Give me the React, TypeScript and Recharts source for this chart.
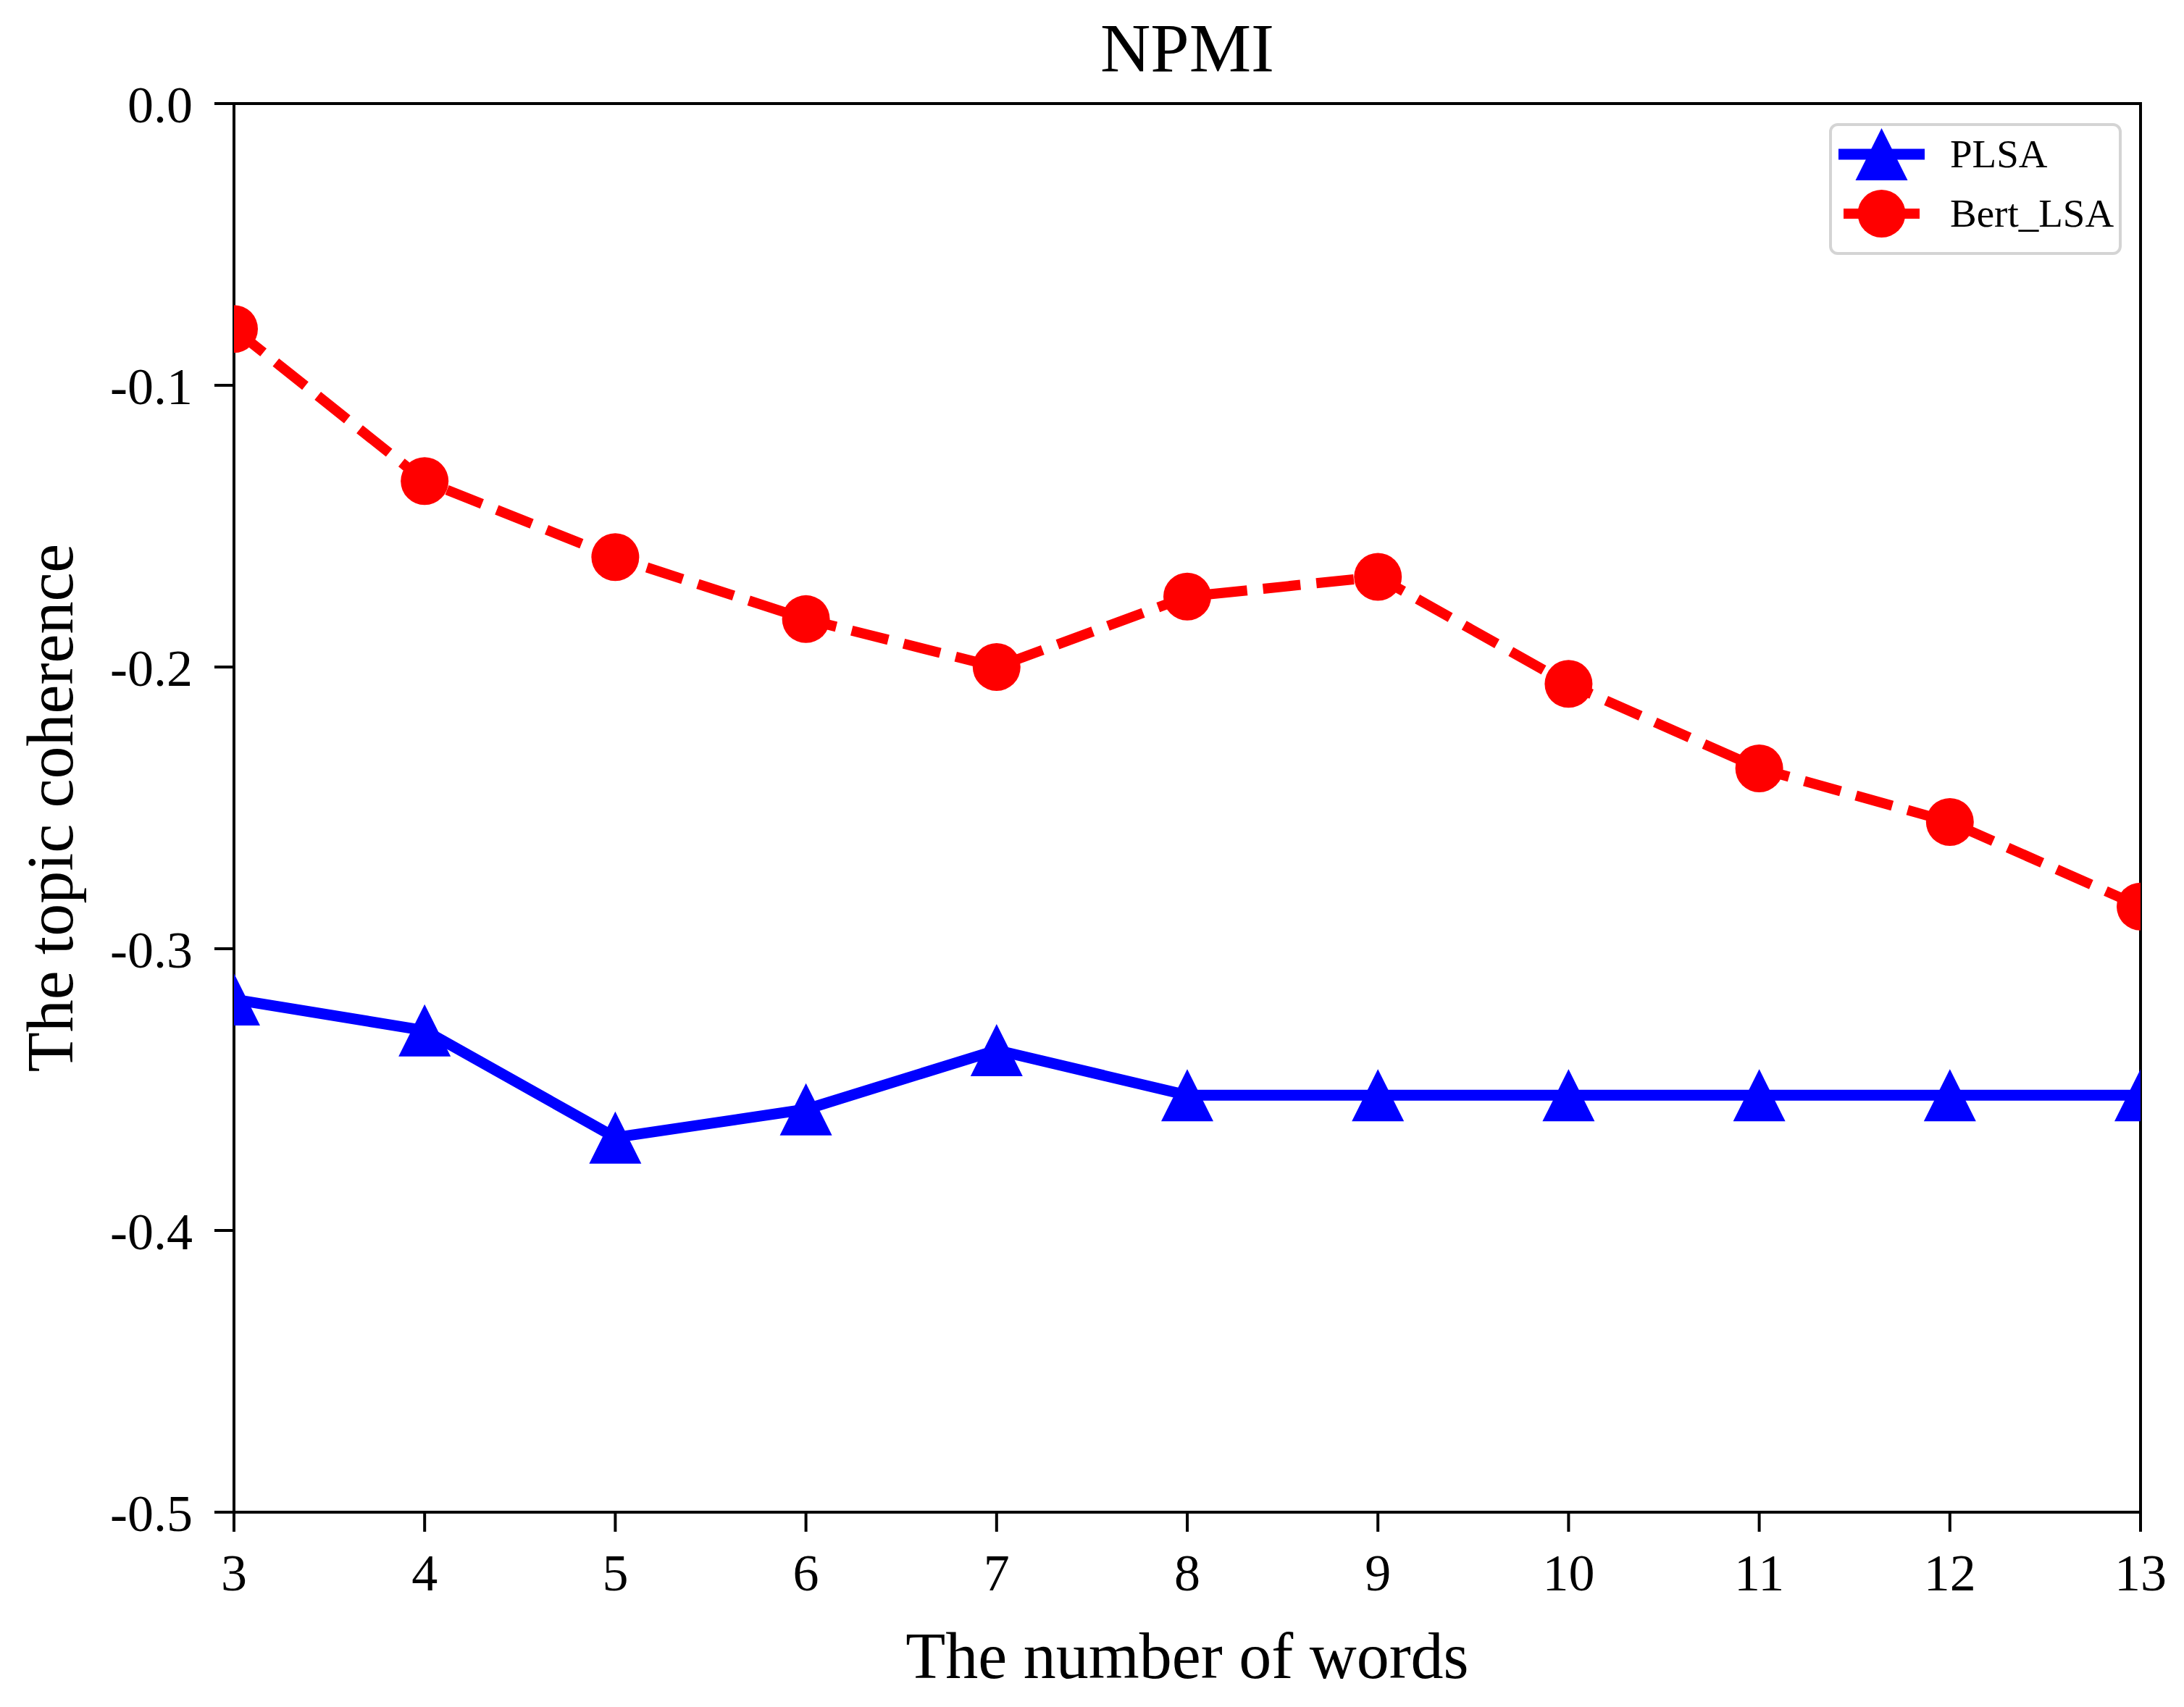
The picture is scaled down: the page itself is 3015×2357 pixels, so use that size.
import React from "react";
import {
  LineChart,
  Line,
  XAxis,
  YAxis,
  ReferenceArea,
  Legend,
} from "recharts";

const FONT = "'Liberation Serif', 'DejaVu Serif', serif";

// ---- data ----
const wordCounts = [3, 4, 5, 6, 7, 8, 9, 10, 11, 12, 13];
const plsaValues = [-0.318, -0.329, -0.367, -0.357, -0.336, -0.352, -0.352, -0.352, -0.352, -0.352, -0.352];
const bertLsaValues = [-0.08, -0.134, -0.161, -0.183, -0.2, -0.175, -0.168, -0.206, -0.236, -0.255, -0.285];
const xTicks = [3, 4, 5, 6, 7, 8, 9, 10, 11, 12, 13];
const yTicks = [-0.5, -0.4, -0.3, -0.2, -0.1, 0.0];
const seriesNames = ["PLSA", "Bert_LSA"];
const titleText = "NPMI";
const xLabelText = "The number of words";
const yLabelText = "The topic coherence";

const data = wordCounts.map((w, i) => ({
  x: w,
  plsa: plsaValues[i],
  bert: bertLsaValues[i],
}));

const BLUE = "#0000ff";
const RED = "#ff0000";

const TRI = 36;
const CIRC_R = 33;

const TriangleDot = (props: any) => {
  const { cx, cy, key } = props;
  if (cx == null || cy == null) return null;
  const pts = `${cx},${cy - TRI} ${cx - TRI},${cy + TRI} ${cx + TRI},${cy + TRI}`;
  return <polygon key={key} points={pts} fill={BLUE} stroke="none" />;
};

const CircleDot = (props: any) => {
  const { cx, cy, key } = props;
  if (cx == null || cy == null) return null;
  return <circle key={key} cx={cx} cy={cy} r={CIRC_R} fill={RED} stroke="none" />;
};

const LegendBox = () => {
  const entries = [
    { name: seriesNames[0], color: BLUE, marker: "tri", dash: undefined as string | undefined, y: 43, sw: 15 },
    { name: seriesNames[1], color: RED, marker: "circ", dash: "52 22", y: 125, sw: 14 },
  ];
  return (
    <div
      style={{
        boxSizing: "border-box",
        width: 404,
        height: 182,
        border: "4px solid #d4d4d4",
        borderRadius: 12,
        background: "#ffffff",
        position: "relative",
        fontFamily: FONT,
      }}
    >
      {entries.map((e) => (
        <div key={e.name}>
          <svg
            width={130}
            height={80}
            style={{ position: "absolute", left: 13 - 4, top: e.y - 40 - 4, overflow: "visible" }}
          >
            {e.marker === "tri" ? (
              <>
                <line x1={0} y1={40} x2={119} y2={40} stroke={e.color} strokeWidth={e.sw} />
                <polygon
                  points={`${59.5},${40 - TRI} ${59.5 - TRI},${40 + TRI} ${59.5 + TRI},${40 + TRI}`}
                  fill={e.color}
                />
              </>
            ) : (
              <>
                <line x1={7} y1={40} x2={112} y2={40} stroke={e.color} strokeWidth={e.sw} />
                <circle cx={59.5} cy={40} r={CIRC_R} fill={e.color} />
              </>
            )}
          </svg>
          <div
            style={{
              position: "absolute",
              left: 167 - 4,
              top: e.y - 4 - 40,
              height: 80,
              lineHeight: "80px",
              fontSize: 55,
              color: "#000",
              whiteSpace: "nowrap",
            }}
          >
            {e.name}
          </div>
        </div>
      ))}
    </div>
  );
};

const YLabel = (props: any) => {
  const vb = props.viewBox || {};
  const x = (vb.x ?? 0) + 100;
  const y = (vb.y ?? 0) + (vb.height ?? 0) / 2;
  return (
    <text
      x={x}
      y={y}
      transform={`rotate(-90 ${x} ${y})`}
      textAnchor="middle"
      fontSize={90}
      fontFamily={FONT}
      fill="#000"
    >
      {yLabelText}
    </text>
  );
};

const XLabel = (props: any) => {
  const vb = props.viewBox || {};
  const x = (vb.x ?? 0) + (vb.width ?? 0) / 2;
  const y = (vb.y ?? 0) + 229;
  return (
    <text x={x} y={y} textAnchor="middle" fontSize={90} fontFamily={FONT} fill="#000">
      {xLabelText}
    </text>
  );
};

export default function App() {
  return (
    <div style={{ position: "absolute", left: 0, top: 0, width: 3015, height: 2357, background: "#fff" }}>
      <LineChart
        width={3015}
        height={2357}
        data={data}
        margin={{ top: 143, right: 60, bottom: 0, left: 0 }}
      >
        <XAxis
          dataKey="x"
          type="number"
          domain={[3, 13]}
          ticks={xTicks}
          allowDataOverflow
          height={269}
          tickSize={27}
          tickMargin={30}
          axisLine={{ stroke: "#000", strokeWidth: 4 }}
          tickLine={{ stroke: "#000", strokeWidth: 4 }}
          tick={{ fontSize: 72, fill: "#000", fontFamily: FONT }}
          interval={0}
          label={<XLabel />}
        />
        <YAxis
          type="number"
          domain={[-0.5, 0]}
          ticks={yTicks}
          allowDataOverflow
          width={323}
          tickSize={27}
          tickMargin={30}
          axisLine={{ stroke: "#000", strokeWidth: 4 }}
          tickLine={{ stroke: "#000", strokeWidth: 4 }}
          tick={{ fontSize: 72, fill: "#000", fontFamily: FONT }}
          tickFormatter={(v: number) => v.toFixed(1)}
          interval={0}
          label={<YLabel />}
        />
        <ReferenceArea
          x1={3}
          x2={13}
          y1={-0.5}
          y2={0}
          ifOverflow="visible"
          fill="none"
          fillOpacity={0}
          stroke="#000"
          strokeWidth={4}
          label={{
            value: titleText,
            position: "top",
            offset: 44,
            fontSize: 96,
            fill: "#000",
            fontFamily: FONT,
          }}
        />
        <Line
          type="linear"
          dataKey="plsa"
          name={seriesNames[0]}
          stroke={BLUE}
          strokeWidth={15}
          strokeLinejoin="round"
          dot={TriangleDot}
          activeDot={false}
          isAnimationActive={false}
        />
        <Line
          type="linear"
          dataKey="bert"
          name={seriesNames[1]}
          stroke={RED}
          strokeWidth={14}
          strokeDasharray="52 22"
          dot={CircleDot}
          activeDot={false}
          isAnimationActive={false}
        />
        <Legend
          layout="horizontal"
          verticalAlign="middle"
          align="center"
          content={<LegendBox />}
          wrapperStyle={{ left: 2525, top: 170, width: 404, height: 182, bottom: "auto", right: "auto" }}
        />
      </LineChart>
    </div>
  );
}
